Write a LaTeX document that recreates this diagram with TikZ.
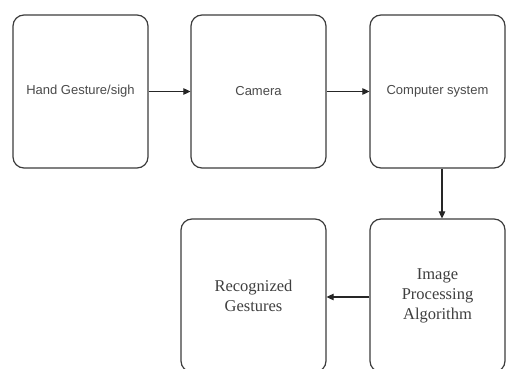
\documentclass[tikz,border=0pt]{standalone}
\usepackage{fontspec}
\setmainfont{Liberation Serif}
\newfontfamily\boxsans{Liberation Sans}
\usetikzlibrary{arrows.meta}
\definecolor{edge}{HTML}{3C3C3C}
\definecolor{txtgray}{HTML}{4A4A4A}
\begin{document}
\begin{tikzpicture}[x=1pt,y=-1pt,
  box/.style={draw=edge, line width=1.2pt, rounded corners=11pt, fill=white,
    minimum width=135pt, minimum height=153pt, inner sep=0pt, align=center},
  toptext/.style={font=\boxsans\fontsize{13}{15}\selectfont, text=txtgray},
  bottext/.style={font=\fontsize{16.5}{20}\selectfont, text=txtgray!85!black},
  link/.style={draw=black!85, line width=1.1pt, -{Triangle[length=7pt,width=6.5pt]}}]
\fill[white] (0,0) rectangle (506,369);
\useasboundingbox (0,0) rectangle (506,369);
\clip (0,0) rectangle (506,369);
\node[box, toptext] (hand) at (80.5,91.5) {Hand Gesture/sigh};
\node[box, toptext] (cam) at (258.5,91.5) {Camera};
\node[box, toptext] (comp) at (437.5,91.5) {Computer system};
\node[box, bottext, minimum width=145pt] (rec) at (253.5,295.5) {Recognized\\Gestures};
\node[box, bottext] (img) at (437.5,295.5) {Image\\Processing\\Algorithm};
\draw[link] (hand) -- (cam);
\draw[link] (cam) -- (comp);
\draw[link] ([xshift=4.5pt]comp.south) -- ([xshift=4.5pt]img.north);
\draw[link] ([yshift=-1.5pt]img.west) -- ([yshift=-1.5pt]rec.east);
\end{tikzpicture}
\end{document}
